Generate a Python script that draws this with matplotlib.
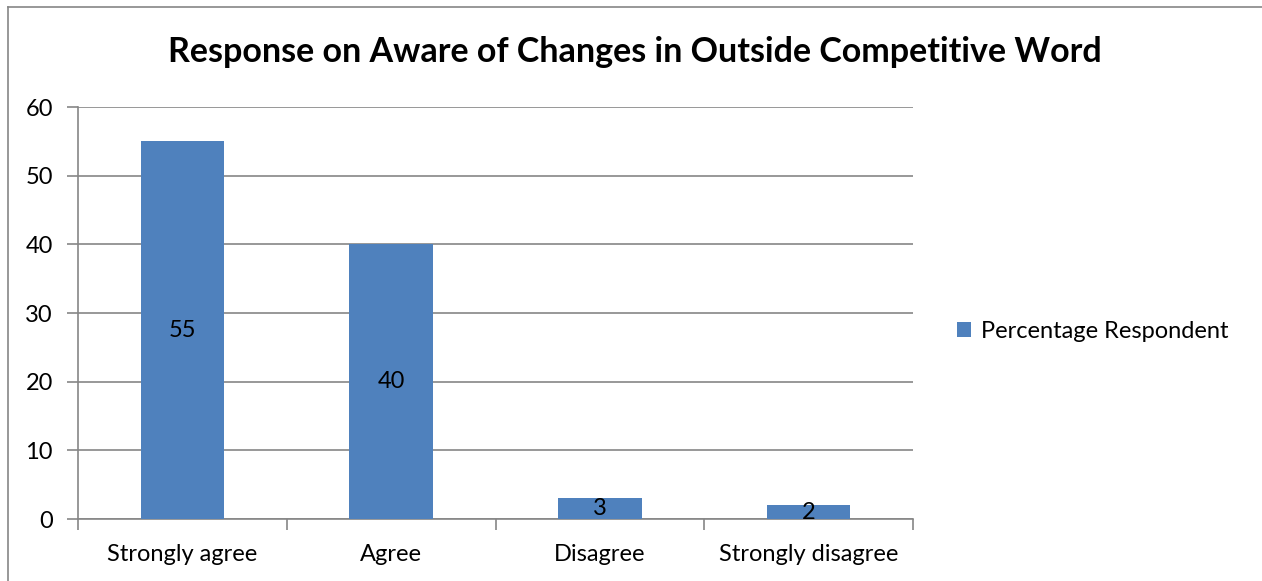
import matplotlib.pyplot as plt
from matplotlib.lines import Line2D

categories = ["Strongly agree", "Agree", "Disagree", "Strongly disagree"]
values = [55, 40, 3, 2]
series_name = "Percentage Respondent"
title = "Response on Aware of Changes in Outside Competitive Word"

plt.rcParams['font.family'] = ['Lato', 'DejaVu Sans']

W, H = 1262, 581
fig = plt.figure(figsize=(W / 100, H / 100), dpi=100)

# outer chart frame: only its top and left edges fall inside the canvas
fig.lines.append(Line2D([8 / W, 8 / W], [0, 1 - 7 / H], transform=fig.transFigure,
                        color="#868686", linewidth=1.2))
fig.lines.append(Line2D([8 / W, 1], [1 - 7 / H, 1 - 7 / H], transform=fig.transFigure,
                        color="#868686", linewidth=1.2))

ax = fig.add_axes([78 / W, (H - 519) / H, (913 - 78) / W, (519 - 107) / H])

x = range(len(categories))
bars = ax.bar(x, values, width=0.4, color="#4F81BD", label=series_name, zorder=3)
ax.bar_label(bars, labels=[str(v) for v in values], label_type="center",
             fontsize=17, color="black")

ax.set_xlim(-0.5, len(categories) - 0.5)
ax.set_ylim(0, 60)
ax.set_yticks(range(0, 61, 10))
ax.set_xticks(list(x))
ax.set_xticklabels(categories)
ax.set_xticks([i - 0.5 for i in range(len(categories) + 1)], minor=True)

ax.grid(axis="y", color="#868686", linewidth=1.2, zorder=0)
for side in ("top", "right"):
    ax.spines[side].set_visible(False)
for side in ("left", "bottom"):
    ax.spines[side].set_color("#868686")
    ax.spines[side].set_linewidth(1.2)

ax.tick_params(axis="y", length=8, width=1.2, color="#868686", labelsize=17, pad=10)
ax.tick_params(axis="x", which="major", length=0, labelsize=17, pad=18)
ax.tick_params(axis="x", which="minor", length=8, width=1.2, color="#868686")

fig.text(635 / W, 1 - 52 / H, title, ha="center", va="center",
         fontsize=24.5, fontweight="bold")

fig.legend(loc="center left", bbox_to_anchor=(936 / W, 1 - 331 / H), frameon=False,
           fontsize=17, handlelength=0.6, handleheight=0.6, handletextpad=0.4)

fig.savefig("out.png", dpi=100)
